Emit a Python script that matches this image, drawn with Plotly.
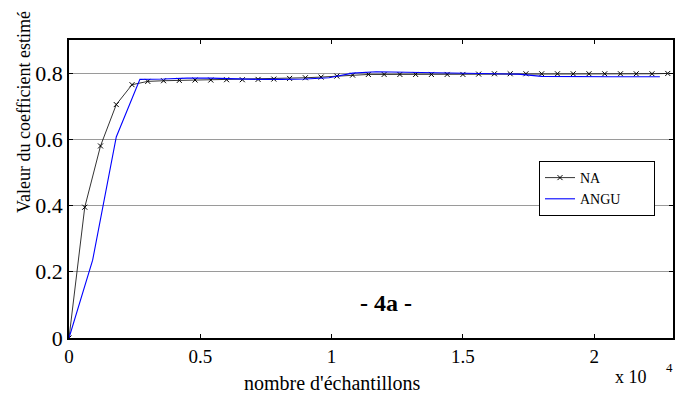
import plotly.graph_objects as go

# NA series: one estimate every 600 samples
na_x = [i * 600 for i in range(39)]
na_y = [0.0, 0.395, 0.58, 0.705, 0.765, 0.775, 0.777, 0.778, 0.779, 0.779,
        0.780, 0.780, 0.781, 0.782, 0.784, 0.786, 0.788, 0.791, 0.794, 0.796,
        0.796, 0.796, 0.796, 0.796, 0.796, 0.796, 0.797, 0.798, 0.798, 0.798,
        0.798, 0.798, 0.798, 0.798, 0.798, 0.798, 0.798, 0.798, 0.799]

# ANGU series: one estimate every 900 samples
angu_x = [i * 900 for i in range(26)]
angu_y = [0.0, 0.235, 0.607, 0.781, 0.782, 0.785, 0.785, 0.782, 0.781, 0.781,
          0.782, 0.786, 0.800, 0.804, 0.803, 0.802, 0.801, 0.800, 0.799, 0.797,
          0.790, 0.789, 0.789, 0.789, 0.789, 0.789]

x_tickvals = [0, 5000, 10000, 15000, 20000]
x_ticktext = ["0", "0.5", "1", "1.5", "2"]
y_tickvals = [0, 0.2, 0.4, 0.6, 0.8]
y_ticktext = ["0", "0.2", "0.4", "0.6", "0.8"]

FONT = "Liberation Serif"
W, H = 604, 298  # plot area size in px

fig = go.Figure()
fig.add_trace(go.Scatter(
    x=na_x, y=na_y, mode="lines+markers", name="NA",
    line=dict(color="black", width=0.8),
    marker=dict(symbol="x-thin", size=5, line=dict(color="black", width=1)),
))
fig.add_trace(go.Scatter(
    x=angu_x, y=angu_y, mode="lines", name="ANGU" + "\u00a0" * 8,
    line=dict(color="#0000ff", width=1.1),
))

fig.update_layout(
    width=690, height=394,
    margin=dict(l=69, r=17, t=40, b=56),
    paper_bgcolor="white", plot_bgcolor="white",
    font=dict(family=FONT, color="black", size=17),
    showlegend=True,
    legend=dict(
        x=(539 - 69) / W, y=(338 - 161) / H, xanchor="left", yanchor="top",
        bgcolor="white", bordercolor="black", borderwidth=1,
        font=dict(family=FONT, size=14, color="black"),
        tracegroupgap=0, itemwidth=30,
    ),
    xaxis=dict(
        range=[0, 23000], tickvals=x_tickvals, ticktext=x_ticktext,
        showgrid=False, zeroline=False,
        showline=True, linecolor="black", linewidth=1.5, mirror="ticks",
        ticks="inside", ticklen=4, tickcolor="black",
        tickfont=dict(family=FONT, size=19, color="black"),
    ),
    yaxis=dict(
        range=[0, 0.9], tickvals=y_tickvals, ticktext=y_ticktext,
        showgrid=True, gridcolor="#9a9a9a", gridwidth=1, zeroline=False,
        showline=True, linecolor="black", linewidth=1.5, mirror="ticks",
        ticks="inside", ticklen=4, tickcolor="black",
        tickfont=dict(family=FONT, size=22, color="black"),
    ),
    annotations=[
        dict(text="nombre d'échantillons", xref="paper", yref="paper",
             x=(332 - 69) / W, y=(338 - 383) / H, xanchor="center", yanchor="middle",
             showarrow=False, font=dict(family=FONT, size=20)),
        dict(text="Valeur du coefficient estimé", xref="paper", yref="paper",
             x=(24 - 69) / W, y=(338 - 112) / H, xanchor="center", yanchor="middle",
             textangle=-90, showarrow=False, font=dict(family=FONT, size=18)),
        dict(text="x 10", xref="paper", yref="paper",
             x=(631 - 69) / W, y=(338 - 377) / H, xanchor="center", yanchor="middle",
             showarrow=False, font=dict(family=FONT, size=18)),
        dict(text="4", xref="paper", yref="paper",
             x=(669 - 69) / W, y=(338 - 367) / H, xanchor="center", yanchor="middle",
             showarrow=False, font=dict(family=FONT, size=13)),
        dict(text="<b>- 4a -</b>", xref="paper", yref="paper",
             x=(386 - 69) / W, y=(338 - 303) / H, xanchor="center", yanchor="middle",
             showarrow=False, font=dict(family=FONT, size=24)),
    ],
)

fig.write_html("out.html")
